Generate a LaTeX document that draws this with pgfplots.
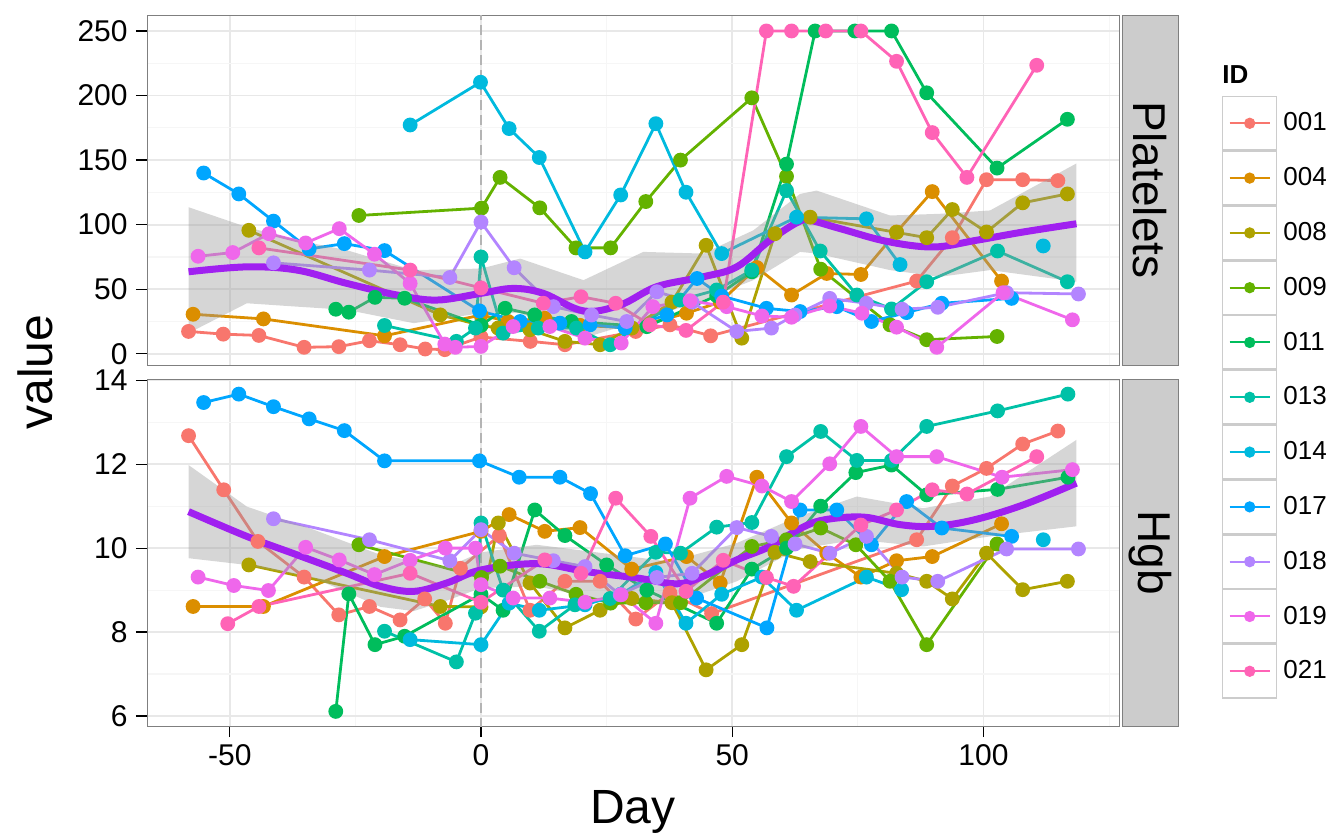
\documentclass[border=0pt]{standalone}
\usepackage{fontspec}
\setmainfont{Liberation Sans}
\usepackage{pgfplots}
\pgfplotsset{compat=1.18}
\definecolor{c001}{HTML}{F8766D}
\definecolor{c004}{HTML}{DB8E00}
\definecolor{c008}{HTML}{AEA200}
\definecolor{c009}{HTML}{64B200}
\definecolor{c011}{HTML}{00BD5C}
\definecolor{c013}{HTML}{00C1A7}
\definecolor{c014}{HTML}{00BADE}
\definecolor{c017}{HTML}{00A6FF}
\definecolor{c018}{HTML}{B385FF}
\definecolor{c019}{HTML}{EF67EB}
\definecolor{c021}{HTML}{FF63B6}
\definecolor{smoothc}{HTML}{A020F0}
\definecolor{grey50}{HTML}{7F7F7F}
\definecolor{grey60}{HTML}{999999}
\definecolor{grey80}{HTML}{CCCCCC}
\definecolor{gridmaj}{HTML}{E8E8E8}
\definecolor{gridmin}{HTML}{F6F6F6}
\definecolor{dashc}{HTML}{B4B4B4}
\pgfplotsset{
  panel/.style={
    scale only axis, width=486pt, xmin=-66.47, xmax=126.97,
    axis line style={draw=grey50, line width=0.5pt},
    xtick={-50,0,50,100}, minor xtick={-25,25,75,125},
    grid=both,
    major grid style={draw=gridmaj, line width=0.9pt},
    minor grid style={draw=gridmin, line width=0.6pt},
    tick align=outside, major tick length=5.5pt, minor tick length=0pt,
    tick pos=left,
    tick style={draw=black, line width=0.6pt},
    ticklabel style={font=\fontsize{15}{15}\selectfont},
    yticklabel style={inner ysep=0pt, inner xsep=4pt, text height=10.3pt, text depth=0pt},
    /pgf/number format/assume math mode=true,
    unbounded coords=jump,
  },
  ser/.style={color=#1, line width=1.4pt, mark=*, mark size=3pt, mark options={draw=none, fill=#1}},
  band/.style={draw=none, fill=grey60, fill opacity=0.4, forget plot},
  smo/.style={draw=smoothc, line width=3.5pt, smooth, tension=0.6, forget plot},
  vl/.style={draw=dashc, line width=1.3pt, dash pattern=on 5pt off 2.5pt, forget plot},
}
\begin{document}
\begin{tikzpicture}
\path (0,0) rectangle (667.5pt,417pt);
% ---------------- Platelets ----------------
\begin{axis}[panel, at={(73.5pt,234.5pt)}, anchor=south west, height=174.75pt,
  ymin=-8.7, ymax=261.98, ytick={0,50,100,150,200,250}, minor ytick={25,75,125,175,225},
  xticklabels={}, xtick style={draw=none},
  legend style={at={(1.10597,0.77)}, anchor=north west, draw=none, fill=none,
    inner sep=0pt, outer sep=0pt, row sep=0pt, column sep=0pt,
    nodes={inner xsep=3pt, inner ysep=0pt, anchor=west, font=\fontsize{13}{13}\selectfont}},
  legend cell align=left,
  legend image code/.code={
    \draw[draw=grey80, fill=white, line width=0.7pt] (0pt,-13.35pt) rectangle (27pt,13.35pt);
    \draw[mark repeat=2, mark phase=2, #1, line width=1pt, mark size=2.3pt] plot coordinates {(3.5pt,0pt) (13.5pt,0pt) (23.5pt,0pt)};
  },
]
\addplot[vl] coordinates {(0,-20) (0,300)};
\addplot[ser=c001] coordinates {(-58.2,17.3) (-51.3,15.2) (-44.2,14.2) (-35.2,5.0) (-28.3,5.5) (-22.2,10.1) (-16.1,7.0) (-11.1,3.7) (-7.2,3.2) (0,13) (9.8,9.6) (16.7,7.0) (30.8,17.3) (37.6,22.4) (45.7,13.9) (86.7,56.3) (93.8,89.9) (100.6,134.8) (107.8,134.8) (114.8,134.1)};
\addlegendentry{001}
\addplot[ser=c004] coordinates {(-57.3,30.6) (-43.3,27.0) (-19.2,13.9) (0,30) (5.4,25) (12.7,27.5) (19.7,22) (30,20) (40.9,31.4) (47.6,40) (54.9,66.8) (61.8,45.5) (68.8,62.2) (75.6,61.4) (82.7,94.3) (89.8,125.6) (103.6,56.3)};
\addlegendentry{004}
\addplot[ser=c008] coordinates {(-46.2,95.6) (-8.1,30.1) (0,22) (3.4,19.9) (9.75,18.6) (16.7,9.6) (23.7,7.0) (30,20) (38,40) (44.8,84) (51.9,12.1) (58.5,93) (65.5,105.8) (82.7,94) (88.7,89.9) (93.8,111.7) (100.6,94.3) (107.8,116.9) (116.7,123.8)};
\addlegendentry{008}
\addplot[ser=c009] coordinates {(-24.3,107.1) (0.1,112.8) (3.8,136.6) (11.7,113) (18.9,82) (25.8,82) (32.8,117.9) (39.7,150) (53.9,198.2) (60.8,137.4) (67.6,65.5) (81.4,22.4) (88.7,10.9) (102.7,13.4)};
\addlegendentry{009}
\addplot[ser=c011] coordinates {(-28.9,34.5) (-26.3,32.2) (-21.1,43.7) (-15.2,43) (0,22) (4.8,35.2) (10.7,30.1) (18,25) (33,21) (46.9,45) (53.9,63.5) (60.8,146.9) (66.5,250) (74.4,250) (81.7,250) (88.7,202.1) (102.7,143.8) (116.7,181.6)};
\addlegendentry{011}
\addplot[ser=c013] coordinates {(-19.2,21.9) (-4.9,9.6) (-1.1,19.9) (0,75) (4.4,16) (11.4,19.9) (19,19.9) (25.7,7.0) (39.6,41.6) (46.9,49.4) (53.9,64.8) (60.8,126.4) (67.5,79.6) (74.8,45.5) (81.7,34.7) (88.7,55.8) (102.8,79.6) (116.7,55.8)};
\addlegendentry{013}
\addplot[ser=c014] coordinates {(-14.1,177.2) (-0.1,210.3) (5.6,174.4) (11.6,152) (20.7,78.9) (27.8,123) (34.8,178.2) (40.8,125.1) (47.9,77.6) (62.8,105.8) (76.7,104.5) (83.4,69.1) (95,nan) (111.9,83.5)};
\addlegendentry{014}
\addplot[ser=c017] coordinates {(-55.2,140) (-48.2,123.8) (-41.3,102.7) (-34.2,81.2) (-27.2,85.3) (-19.2,79.9) (-0.3,33.2) (7.8,25) (15.7,23.7) (21.7,22.4) (28.7,19.9) (37,30.1) (43,58.3) (47.9,44.7) (56.8,35.2) (63.5,32.7) (70.8,36.5) (77.7,25) (84.7,31.9) (91.7,39.1) (105.6,42.9)};
\addlegendentry{017}
\addplot[ser=c018] coordinates {(-41.3,70.4) (-22.2,64.8) (-6.2,59.1) (0,102) (6.6,66.6) (14.4,36.5) (22,30) (29,25) (35,48) (42,40) (50.9,17.3) (57.8,19.9) (62.5,30) (69.4,42.9) (76.7,39.1) (83.8,34.5) (90.9,36) (104.6,47.3) (118.9,46.3)};
\addlegendentry{018}
\addplot[ser=c019] coordinates {(-56.3,75.5) (-49.4,78.4) (-42.2,93) (-34.9,85.8) (-28.2,96.9) (-21.2,77.1) (-14.1,54.5) (-7.2,7.5) (-5.1,5.0) (0,5.7) (6.4,21.1) (13.7,21.1) (20.7,12.1) (27.9,8.3) (34.2,36.5) (41.6,41.1) (48.9,36.5) (55.9,29.3) (61.8,28.3) (69.4,37) (75.8,31.4) (82.7,20.6) (90.7,5.0) (103.9,47.3) (117.7,26.3)};
\addlegendentry{019}
\addplot[ser=c021] coordinates {(-44.2,82) (-14.1,64.8) (0,51) (12.4,39.1) (19.9,44.2) (26.8,39.1) (33.6,22.4) (40.8,18.1) (48.2,40) (56.8,250) (61.8,250) (68.6,250) (75.6,250) (82.7,226.5) (89.8,171.3) (96.7,136.6) (110.6,223.4)};
\addlegendentry{021}
\addplot[band] coordinates {(-58.2,113.5) (-46.6,98.1) (-36.6,87.9) (-26.7,80.2) (-13.4,64.8) (0,66) (7.8,73.7) (20.4,57) (32.3,78.9) (44.2,77.6) (54.2,95.6) (63.5,123.8) (66.8,126.4) (81.4,107.1) (91.3,108.4) (101.3,111) (118.5,147.4)
 (118.5,55.8) (101.3,64.8) (91.3,59.6) (81.4,64.8) (66.8,77.6) (63.5,78.9) (54.2,57) (44.2,41.6) (32.3,26.3) (20.4,12.1) (7.8,31.4) (0,31.4) (-13.4,23.7) (-26.7,34) (-36.6,36.5) (-46.6,39.1) (-58.2,16)} -- cycle;
\addplot[smo] coordinates {(-58.2,63.5) (-46.6,67.3) (-36.6,64.8) (-26.7,54.5) (-16.7,45.5) (-8.8,41.6) (0,46.8) (6.4,50.6) (12.4,46.8) (20.4,33.2) (27.7,37.8) (35,52) (44.2,59.6) (50.9,67.3) (57.5,87.9) (63.1,102) (65.5,103.3) (71.5,96.9) (80.7,87.1) (90,82.7) (98.6,87.9) (107.9,94.3) (118.5,100.7)};
\end{axis}
% ---------------- Hgb ----------------
\begin{axis}[panel, at={(73.5pt,54pt)}, anchor=south west, height=173.5pt,
  ymin=5.762, ymax=14.03, ytick={6,8,10,12,14}, minor ytick={7,9,11,13},
  xticklabels={-50,0,50,100},
]
\addplot[vl] coordinates {(0,0) (0,20)};
\addplot[ser=c001] coordinates {(-58.2,12.68) (-51.2,11.39) (-44.4,10.16) (-35.2,9.31) (-28.3,8.41) (-22.2,8.61) (-16.1,8.29) (-11.2,8.79) (-7.1,8.21) (-4.1,9.52) (3.65,10.3) (9.75,8.52) (16.7,9.21) (23.7,9.21) (30.8,8.31) (37.6,8.93) (45.9,8.44) (86.7,10.2) (93.8,11.48) (100.6,11.9) (107.8,12.48) (114.8,12.79)};
\addplot[ser=c004] coordinates {(-57.3,8.61) (-43.3,8.61) (-19.2,9.8) (0,10.4) (5.6,10.8) (12.7,10.4) (19.7,10.49) (30,9.5) (40.9,9.8) (47.6,9.17) (54.9,11.69) (61.8,10.6) (68.8,9.88) (75.6,9.31) (82.7,9.7) (89.8,9.8) (103.6,10.58)};
\addplot[ser=c008] coordinates {(-46.2,9.6) (-8.1,8.61) (0,8.6) (3.45,10.6) (9.75,9.17) (16.7,8.1) (23.7,8.52) (30,8.8) (38,8.7) (44.8,7.1) (51.9,7.7) (58.5,9.9) (65.5,9.68) (82.7,9.4) (88.7,9.21) (93.8,8.79) (100.6,9.88) (107.8,9.01) (116.7,9.21)};
\addplot[ser=c009] coordinates {(-24.3,10.08) (0.1,9.3) (3.8,9.57) (11.7,9.21) (18.9,8.9) (25.8,8.69) (32.8,8.7) (39.7,8.7) (53.9,10.04) (60.8,10.2) (67.6,10.48) (74.6,10.08) (81.4,9.21) (88.7,7.7) (102.7,10.1)};
\addplot[ser=c011] coordinates {(-28.9,6.11) (-26.3,8.91) (-21.1,7.7) (-15.2,7.9) (0,8.9) (4.4,8.52) (10.7,10.91) (16.7,10.3) (25,9.6) (33,9.0) (46.9,8.21) (53.9,9.5) (60.8,10.0) (67.6,11.0) (74.6,11.8) (81.7,11.98) (88.7,11.27) (102.8,11.4) (116.8,11.69)};
\addplot[ser=c013] coordinates {(-19.2,8.02) (-4.9,7.29) (-1.1,8.45) (0,10.6) (4.4,9.0) (11.6,8.02) (18.7,8.65) (25.7,8.8) (34.8,9.9) (39.7,9.88) (46.9,10.5) (53.9,10.61) (60.8,12.18) (67.6,12.78) (74.8,12.09) (81.7,12.09) (88.7,12.9) (102.8,13.27) (116.8,13.67)};
\addplot[ser=c014] coordinates {(-14.1,7.82) (0,7.7) (5.6,8.69) (11.6,8.52) (20.7,8.65) (27.8,8.9) (34.8,9.42) (40.8,8.21) (47.9,8.9) (55.9,9.31) (62.8,8.52) (76.7,9.31) (83.7,9.01) (95,nan) (111.9,10.2)};
\addplot[ser=c017] coordinates {(-55.2,13.47) (-48.2,13.67) (-41.3,13.37) (-34.2,13.08) (-27.2,12.8) (-19.2,12.08) (-0.3,12.08) (7.6,11.69) (15.7,11.69) (21.8,11.3) (28.7,9.82) (36.7,10.1) (42.9,8.81) (56.9,8.1) (63.5,10.91) (70.8,10.91) (77.7,10.08) (84.7,11.11) (91.7,10.48) (105.6,10.28)};
\addplot[ser=c018] coordinates {(-41.3,10.7) (-22.2,10.2) (-6.2,9.7) (0,10.44) (6.6,9.88) (14.4,9.7) (20.7,9.56) (27.7,8.89) (35,9.3) (42,9.4) (50.9,10.49) (57.8,10.28) (62.5,10.1) (69.4,9.88) (76.7,10.28) (83.8,9.31) (90.9,9.21) (104.6,9.98) (118.9,9.98)};
\addplot[ser=c019] coordinates {(-56.3,9.31) (-49.2,9.11) (-42.3,8.99) (-34.9,10.02) (-28.2,9.72) (-21.2,9.37) (-14.1,9.71) (-7.1,10.0) (-1.1,10.0) (0,9.13) (6.4,8.81) (13.7,8.81) (20.7,8.71) (27.9,8.89) (34.8,8.21) (41.6,11.19) (48.9,11.71) (55.9,11.48) (61.8,11.11) (69.4,12.01) (75.6,12.9) (82.7,12.18) (90.7,12.18) (103.7,11.69) (117.7,11.87)};
\addplot[ser=c021] coordinates {(-50.4,8.2) (-44.2,8.61) (-14.1,9.4) (0,8.71) (12.7,9.72) (19.9,9.4) (26.8,11.19) (33.8,10.28) (40.8,8.97) (48.2,9.71) (56.8,9.3) (62.2,9.09) (75.6,10.55) (82.7,10.91) (89.8,11.39) (96.7,11.29) (110.6,12.18)};
\addplot[band] coordinates {(-58.2,11.98) (-46.6,10.99) (-33.3,10.44) (-20,9.84) (-6.8,9.55) (0,9.9) (11.1,10.08) (24.3,9.88) (37.6,9.68) (50.9,10.12) (63.1,10.75) (74.8,11.23) (88,10.95) (101.3,11.23) (118.5,12.58)
 (118.5,10.52) (101.3,10.28) (88,10.04) (74.8,10.2) (63.1,9.98) (50.9,9.21) (37.6,8.65) (24.3,8.77) (11.1,9.09) (0,9.05) (-6.8,8.75) (-13.4,8.5) (-20,8.6) (-33.3,9.29) (-46.6,9.6) (-58.2,9.76)} -- cycle;
\addplot[smo] coordinates {(-58.2,10.87) (-46.6,10.28) (-36.6,9.84) (-26.7,9.4) (-20,9.09) (-13.4,8.97) (-6.8,9.17) (0,9.48) (11.1,9.63) (21,9.44) (31,9.29) (39,9.15) (44.2,9.33) (50.9,9.72) (57.5,10.04) (63.1,10.44) (68.1,10.67) (76.1,10.74) (83.4,10.56) (90,10.52) (98,10.67) (107.9,11.03) (118.5,11.55)};
\end{axis}
% strips
\draw[draw=grey50, fill=grey80, line width=0.5pt] (561pt,234.5pt) rectangle (589pt,409.25pt);
\draw[draw=grey50, fill=grey80, line width=0.5pt] (561pt,54pt) rectangle (589pt,227.5pt);
\node[rotate=-90, font=\fontsize{23}{23}\selectfont] at (575pt,321.9pt) {Platelets};
\node[rotate=-90, font=\fontsize{23}{23}\selectfont] at (575pt,140.7pt) {Hgb};
% titles
\node[rotate=90, anchor=base, font=\fontsize{24}{24}\selectfont] at (26.5pt,231pt) {value};
\node[anchor=base, font=\fontsize{24}{24}\selectfont] at (316.5pt,5.5pt) {Day};
\node[anchor=base west, inner sep=0pt, font=\bfseries\fontsize{13}{13}\selectfont] at (611pt,375.3pt) {ID};
\end{tikzpicture}
\end{document}
